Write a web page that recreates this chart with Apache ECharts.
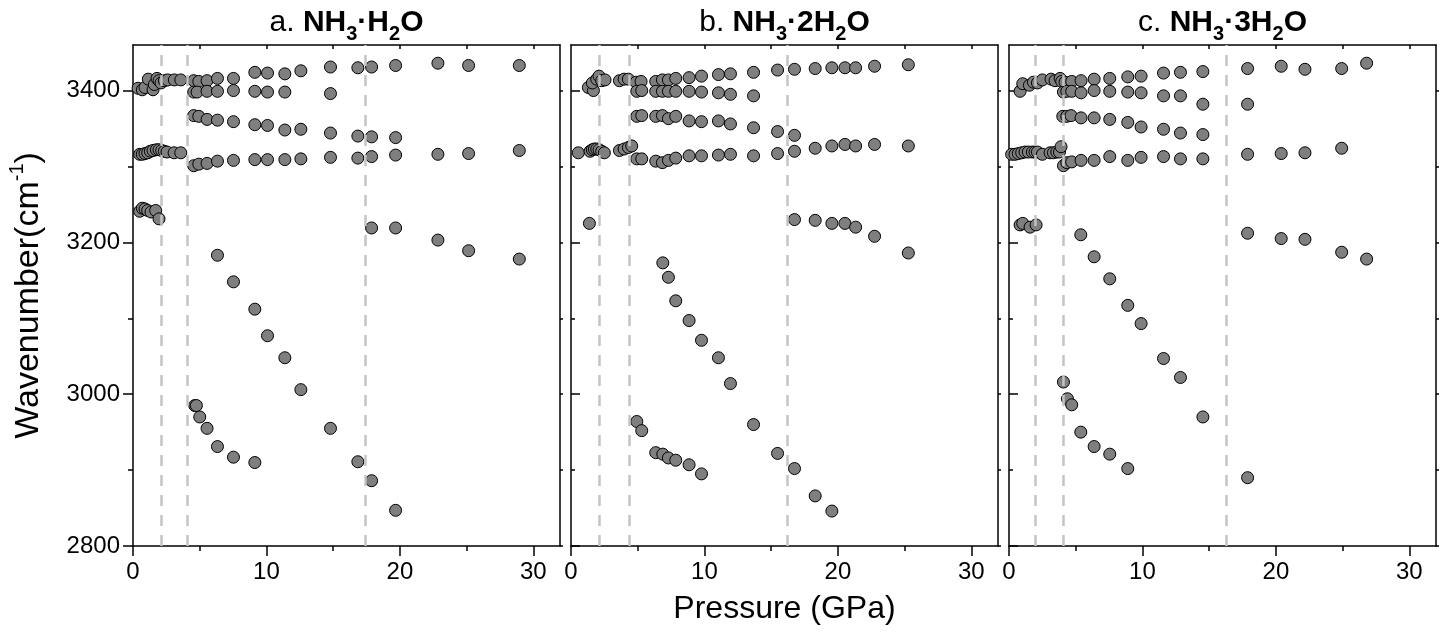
<!DOCTYPE html>
<html>
<head>
<meta charset="utf-8">
<script src="https://cdn.jsdelivr.net/npm/echarts@6/dist/echarts.min.js"></script>
<style>
html, body { margin: 0; padding: 0; background: #fff; }
#chart { width: 1449px; height: 634px; }
</style>
</head>
<body>
<div id="chart"></div>
<script>
// [pressure GPa, wavenumber cm-1]
const pointsA = [
	[0.38, 3403], [0.7, 3401], [0.9, 3404], [1.15, 3415], [1.5, 3401], [1.6, 3408], [1.8, 3416],
	[1.95, 3413], [2.1, 3410], [2.35, 3413], [2.6, 3414], [3.1, 3414], [3.58, 3414],
	[0.5, 3316], [0.7, 3316], [0.9, 3317], [1.1, 3318], [1.3, 3320], [1.5, 3321], [1.75, 3322],
	[1.95, 3322], [2.15, 3321], [2.35, 3320], [2.55, 3319], [3.08, 3318], [3.58, 3318],
	[0.5, 3241], [0.7, 3245], [0.9, 3244], [1.1, 3242], [1.35, 3240], [1.7, 3242], [1.95, 3231],
	[4.55, 3413], [4.93, 3412], [5.55, 3413], [6.33, 3416], [7.53, 3416], [9.13, 3424], [10.08, 3423],
	[11.38, 3422], [12.58, 3426], [14.8, 3431], [16.85, 3430], [17.88, 3431], [19.68, 3433],
	[22.85, 3436], [25.15, 3433], [28.95, 3433],
	[4.55, 3398], [4.8, 3398], [5.55, 3399], [6.33, 3399], [7.53, 3400], [9.13, 3399], [10.08, 3398],
	[11.38, 3398], [14.8, 3396],
	[4.55, 3367], [4.93, 3366], [5.55, 3362], [6.33, 3361], [7.53, 3359], [9.13, 3355], [10.08, 3354],
	[11.38, 3348], [12.58, 3349], [14.8, 3344], [16.85, 3340], [17.88, 3339], [19.68, 3338],
	[4.55, 3301], [4.93, 3303], [5.55, 3304], [6.33, 3307], [7.53, 3308], [9.13, 3309], [10.08, 3309],
	[11.38, 3309], [12.58, 3310], [14.8, 3312], [16.85, 3311], [17.88, 3313], [19.68, 3315],
	[22.85, 3316], [25.15, 3317], [28.95, 3321],
	[17.88, 3219], [19.68, 3219], [22.85, 3203], [25.15, 3189], [28.95, 3178],
	[6.33, 3183], [7.53, 3148], [9.13, 3112], [10.08, 3077], [11.38, 3048], [12.58, 3006],
	[14.8, 2955], [16.85, 2911], [17.88, 2886], [19.68, 2847],
	[4.63, 2985], [4.75, 2985], [5.0, 2970], [5.55, 2955], [6.33, 2931], [7.53, 2917], [9.13, 2910]
];

const pointsB = [
	[1.3, 3404], [1.68, 3400], [1.6, 3410], [1.93, 3415], [2.1, 3419], [2.3, 3413], [2.55, 3414],
	[3.63, 3413], [3.98, 3415], [4.3, 3415],
	[4.88, 3411], [5.25, 3412], [6.35, 3412], [6.85, 3414], [7.3, 3414], [7.85, 3416], [8.85, 3417],
	[9.78, 3419], [11.05, 3421], [11.95, 3422], [13.68, 3424], [15.48, 3427], [16.75, 3428],
	[18.3, 3429], [19.55, 3430], [20.53, 3430], [21.33, 3430], [22.75, 3432], [25.28, 3434],
	[4.93, 3399], [5.3, 3400], [6.35, 3399], [6.85, 3399], [7.3, 3399], [7.85, 3399], [8.85, 3399],
	[9.78, 3398], [11.05, 3397], [11.95, 3395], [13.68, 3393],
	[4.93, 3366], [5.3, 3367], [6.35, 3366], [6.85, 3367], [7.3, 3363], [7.85, 3366], [8.85, 3360],
	[9.78, 3359], [11.05, 3360], [11.95, 3356], [13.68, 3351], [15.48, 3346], [16.75, 3341],
	[0.55, 3318], [1.43, 3320], [1.6, 3322], [1.75, 3323], [1.93, 3323], [2.1, 3322], [2.3, 3320],
	[2.5, 3318], [3.63, 3321], [3.98, 3323], [4.3, 3325], [4.55, 3327],
	[4.93, 3310], [5.3, 3310], [6.35, 3307], [6.85, 3305], [7.3, 3308], [7.85, 3311], [8.85, 3314],
	[9.78, 3314], [11.05, 3315], [11.95, 3316], [13.68, 3314], [15.48, 3317], [16.75, 3320],
	[18.3, 3324], [19.55, 3327], [20.53, 3329], [21.33, 3327], [22.75, 3329], [25.28, 3327],
	[1.38, 3225],
	[16.75, 3230], [18.3, 3229], [19.55, 3225], [20.53, 3225], [21.33, 3220], [22.75, 3208], [25.28, 3186],
	[6.88, 3173], [7.3, 3154], [7.85, 3123], [8.85, 3097], [9.78, 3071], [11.05, 3048], [11.95, 3014],
	[13.68, 2960], [15.48, 2922], [16.75, 2902], [18.3, 2866], [19.55, 2846],
	[4.93, 2964], [5.3, 2952], [6.35, 2923], [6.88, 2921], [7.3, 2916], [7.85, 2913], [8.85, 2907], [9.78, 2895]
];

const pointsC = [
	[0.83, 3399], [1.03, 3409], [1.53, 3407], [1.83, 3411], [2.13, 3410], [2.5, 3414], [3.15, 3415],
	[3.45, 3413], [3.83, 3416], [3.95, 3412], [4.2, 3411],
	[4.7, 3412], [5.4, 3413], [6.38, 3415], [7.55, 3416], [8.9, 3418], [9.9, 3419], [11.58, 3423],
	[12.85, 3424], [14.53, 3425], [17.88, 3429], [20.4, 3432], [22.18, 3428], [24.93, 3429], [26.8, 3436],
	[4.08, 3398], [4.33, 3399], [4.7, 3399], [5.4, 3397], [6.38, 3400], [7.55, 3399], [8.9, 3398],
	[9.9, 3397], [11.58, 3393], [12.85, 3393], [14.53, 3382], [17.88, 3382],
	[4.03, 3366], [4.33, 3366], [4.65, 3367], [5.4, 3364], [6.38, 3364], [7.55, 3362], [8.9, 3358],
	[9.9, 3352], [11.58, 3349], [12.85, 3344], [14.53, 3342],
	[0.2, 3316], [0.45, 3316], [0.7, 3317], [0.95, 3318], [1.2, 3319], [1.45, 3319], [1.75, 3319],
	[1.95, 3319], [2.13, 3319], [2.5, 3316], [3.08, 3318], [3.33, 3318], [3.58, 3319], [3.78, 3319], [3.9, 3326],
	[4.08, 3301], [4.33, 3305], [4.7, 3306], [5.4, 3308], [6.38, 3308], [7.55, 3313], [8.9, 3308],
	[9.9, 3312], [11.58, 3313], [12.85, 3310], [14.53, 3310], [17.88, 3316], [20.4, 3317],
	[22.18, 3318], [24.93, 3324],
	[0.83, 3223], [1.03, 3225], [1.58, 3220], [2.03, 3223],
	[17.88, 3212], [20.4, 3205], [22.18, 3204], [24.93, 3187], [26.8, 3178],
	[5.38, 3210], [6.38, 3181], [7.55, 3152], [8.9, 3117], [9.9, 3093], [11.58, 3047], [12.85, 3022], [14.53, 2970],
	[4.08, 3016], [4.38, 2994], [4.7, 2986], [5.38, 2950], [6.38, 2931], [7.55, 2921], [8.9, 2902],
	[17.88, 2890]
];

// transition pressures (dashed lines)
const dashA = [2.1, 4.1, 17.4];
const dashB = [2.15, 4.4, 16.2];
const dashC = [2.0, 4.05, 16.3];

const xTicks = [0, 10, 20, 30];
const xMinorTicks = [5, 15, 25];
const xTopTicks = [5, 10, 15, 20, 25, 30];
const yTicks = [2800, 3000, 3200, 3400];
const yMinorTicks = [2900, 3100, 3300];
const yRightTicks = [2800, 2900, 3000, 3100, 3200, 3300, 3400];

const titles = [
	"{n|a. }{b|NH}{s|3}{b|·H}{s|2}{b|O}",
	"{n|b. }{b|NH}{s|3}{b|·2H}{s|2}{b|O}",
	"{n|c. }{b|NH}{s|3}{b|·3H}{s|2}{b|O}",
];

const font = "Liberation Sans, Arial, Helvetica, sans-serif";
const panels = [
	{ points: pointsA, dashes: dashA, left: 133 },
	{ points: pointsB, dashes: dashB, left: 571 },
	{ points: pointsC, dashes: dashC, left: 1009 },
];

const black = { color: "#000", width: 1.5 };
const grids = [];
const xAxes = [];
const yAxes = [];
const series = [];

panels.forEach((p, i) => {
	// main grid + overlay grid used only for minor ticks
	grids.push({ left: p.left, top: 45, width: 427, height: 501 });
	grids.push({ left: p.left, top: 45, width: 427, height: 501 });
	const g = 2 * i;
	const base = { type: "value", min: 0, max: 32, interval: 10, splitLine: { show: false } };
	xAxes.push({
		...base,
		gridIndex: g,
		position: "bottom",
		axisLine: { show: true, onZero: false, lineStyle: black },
		axisTick: { show: true, customValues: xTicks, length: 10, lineStyle: black },
		axisLabel: { customValues: xTicks, fontSize: 24, color: "#000", margin: 14, fontFamily: font },
		name: i === 1 ? "Pressure (GPa)" : "",
		nameLocation: "middle",
		nameGap: 47,
		nameTextStyle: { fontSize: 32, color: "#000", fontFamily: font },
	});
	xAxes.push({
		...base,
		gridIndex: g,
		position: "top",
		axisLine: { show: true, onZero: false, lineStyle: black },
		axisTick: { show: true, inside: true, customValues: xTopTicks, length: 4, lineStyle: black },
		axisLabel: { show: false },
		name: titles[i],
		nameLocation: "middle",
		nameGap: 1,
		nameTextStyle: {
			color: "#000",
			fontFamily: font,
			rich: {
				n: { fontSize: 30, lineHeight: 42, color: "#000", fontFamily: font },
				b: { fontSize: 30, lineHeight: 42, fontWeight: "bold", color: "#000", fontFamily: font },
				s: { fontSize: 20, lineHeight: 14, fontWeight: "bold", verticalAlign: "bottom", color: "#000", fontFamily: font },
			},
		},
	});
	xAxes.push({
		...base,
		gridIndex: g + 1,
		position: "bottom",
		axisLine: { show: false },
		axisTick: { show: true, customValues: xMinorTicks, length: 5, lineStyle: black },
		axisLabel: { show: false },
	});

	const ybase = { type: "value", min: 2800, max: 3460, interval: 200, splitLine: { show: false } };
	const first = i === 0;
	yAxes.push({
		...ybase,
		gridIndex: g,
		position: "left",
		axisLine: { show: true, onZero: false, lineStyle: black },
		axisTick: { show: true, inside: !first, customValues: yTicks, length: first ? 10 : 9, lineStyle: black },
		axisLabel: {
			show: first,
			customValues: yTicks,
			formatter: (v) => String(v),
			fontSize: 24,
			color: "#000",
			margin: 13,
			fontFamily: font,
		},
		name: first ? "{a|Wavenumber(cm}{sup|-1}{a|)}" : "",
		nameLocation: "middle",
		nameGap: 82,
		nameTextStyle: {
			color: "#000",
			fontFamily: font,
			rich: {
				a: { fontSize: 34, lineHeight: 44, color: "#000", fontFamily: font },
				sup: { fontSize: 20, lineHeight: 22, verticalAlign: "top", color: "#000", fontFamily: font },
			},
		},
	});
	yAxes.push({
		...ybase,
		gridIndex: g,
		position: "right",
		axisLine: { show: true, onZero: false, lineStyle: black },
		axisTick: { show: true, customValues: yRightTicks, length: 3, lineStyle: black },
		axisLabel: { show: false },
	});
	yAxes.push({
		...ybase,
		gridIndex: g + 1,
		position: "left",
		axisLine: { show: false },
		axisTick: { show: true, inside: !first, customValues: yMinorTicks, length: first ? 5 : 4, lineStyle: black },
		axisLabel: { show: false },
	});

	series.push({
		type: "scatter",
		xAxisIndex: 3 * i,
		yAxisIndex: 3 * i,
		data: p.points,
		symbolSize: 12,
		itemStyle: { color: "#7f7f7f", borderColor: "#000", borderWidth: 1, opacity: 1 },
		markLine: {
			silent: true,
			symbol: ["none", "none"],
			label: { show: false },
			lineStyle: { color: "#c4c4c4", width: 2.5, type: [11, 9] },
			data: p.dashes.map((v) => ({ xAxis: v })),
			animation: false,
		},
		z: 3,
	});
});

const chart = echarts.init(document.getElementById("chart"));
chart.setOption({
	animation: false,
	backgroundColor: "#fff",
	grid: grids,
	xAxis: xAxes,
	yAxis: yAxes,
	series: series,
});
</script>
</body>
</html>
